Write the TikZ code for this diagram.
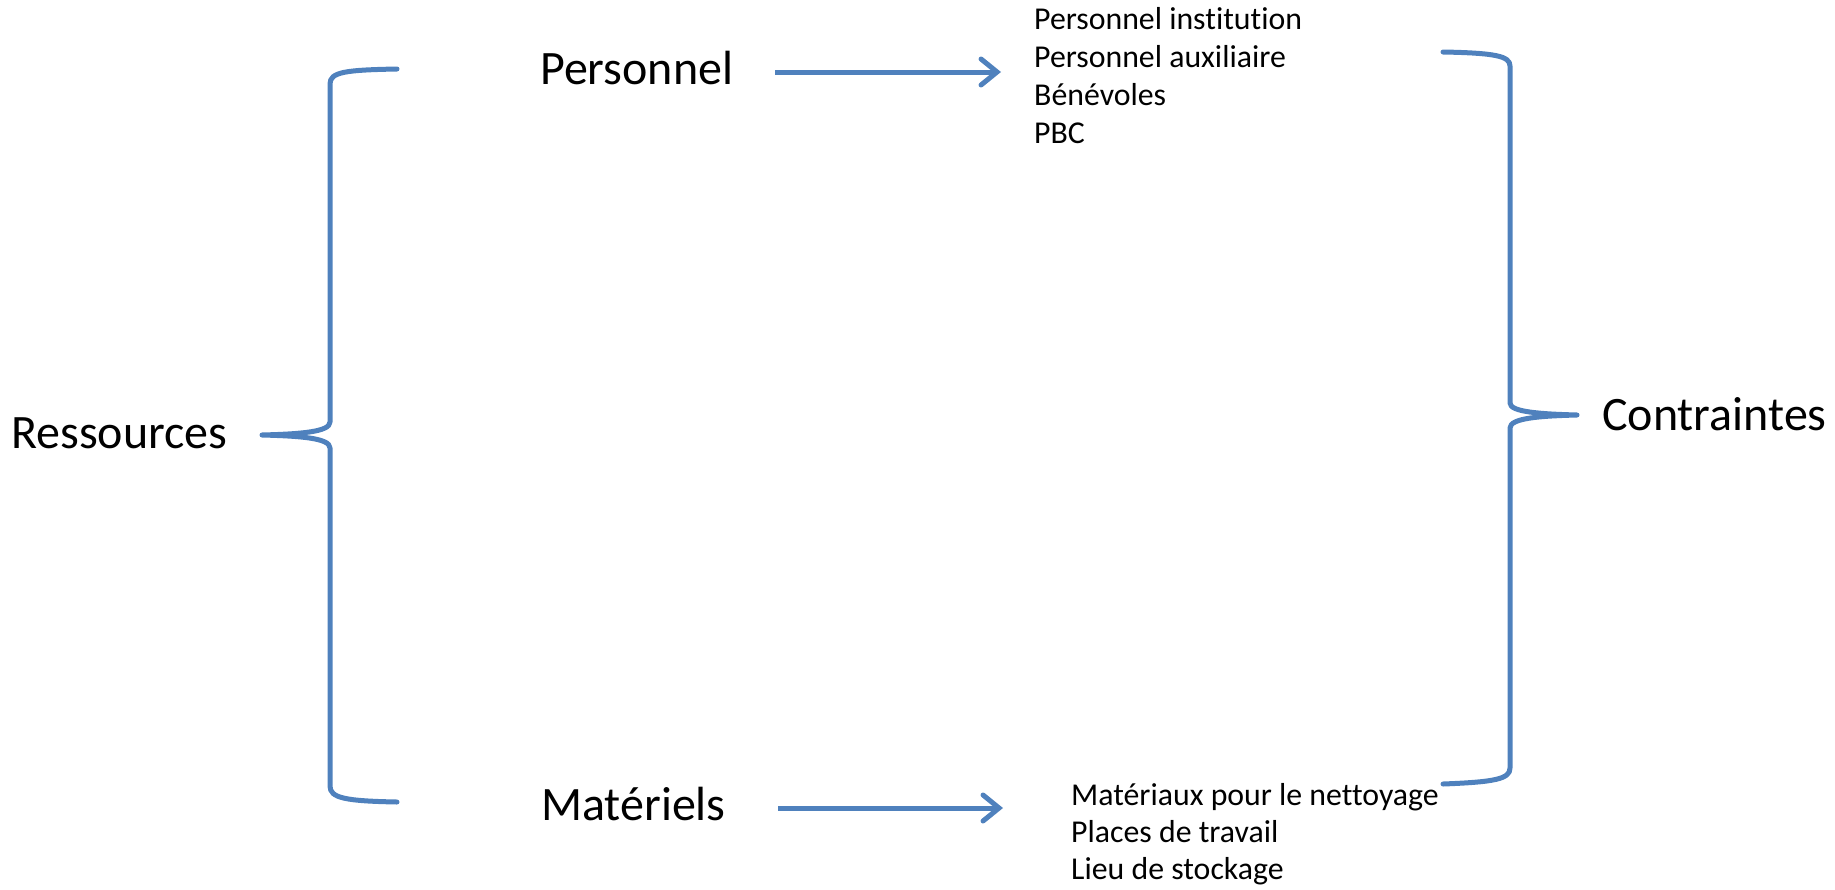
\documentclass[tikz,border=0pt]{standalone}
\usepackage{fontspec}
\setmainfont[RawFeature={-liga}]{Carlito}
\usetikzlibrary{arrows.meta}
\definecolor{obl}{HTML}{4F81BD}
\tikzset{
  big/.style={font=\fontsize{48}{57}\selectfont, inner sep=0pt, anchor=base west},
  small/.style={font=\fontsize{31.8}{38}\selectfont, inner sep=0pt, anchor=base west},
  brace/.style={draw=obl, line width=5pt, line cap=round, line join=round},
  arr/.style={draw=obl, line width=5pt, -{Straight Barb[length=16pt,width=26pt,line cap=round]}}
}
\begin{document}
\begin{tikzpicture}[x=1pt,y=-1pt]
\useasboundingbox (0,0) rectangle (1835,889);
% texts
\node[big] (res) at (11,448) {Ressources};
\node[big] (con) at (1602,430) {Contraintes};
\node[big] (pers) at (540,84) {Personnel};
\node[big] (mat) at (541,820) {Matériels};
\node[small] (p1) at (1034,29) {Personnel institution};
\node[small] (p2) at (1034,67) {Personnel auxiliaire};
\node[small] (p3) at (1034,105) {Bénévoles};
\node[small] (p4) at (1034,143) {PBC};
\node[small] (m1) at (1071,805) {Matériaux pour le nettoyage};
\node[small] (m2) at (1071,842) {Places de travail};
\node[small] (m3) at (1071,879) {Lieu de stockage};
% arrows
\coordinate (a1s) at (775,72);
\coordinate (a1e) at (1001,72);
\coordinate (a2s) at (778,808);
\coordinate (a2e) at (1003,808);
\draw[arr] (a1s) -- (a1e);
\draw[arr] (a2s) -- (a2e);
% left brace
\draw[brace] (397,69) .. controls (345,70) and (330,72) .. (330,84) -- (330,422)
  .. controls (330,432) and (300,434) .. (262,435)
  .. controls (300,436) and (330,438) .. (330,448) -- (330,786)
  .. controls (330,798) and (345,801) .. (397,802);
% right brace
\draw[brace] (1443,52) .. controls (1495,53) and (1510,56) .. (1510,66) -- (1510,403)
  .. controls (1510,412) and (1540,414) .. (1577,415)
  .. controls (1540,416) and (1510,418) .. (1510,428) -- (1510,768)
  .. controls (1510,779) and (1495,782) .. (1443,784);
\end{tikzpicture}
\end{document}
